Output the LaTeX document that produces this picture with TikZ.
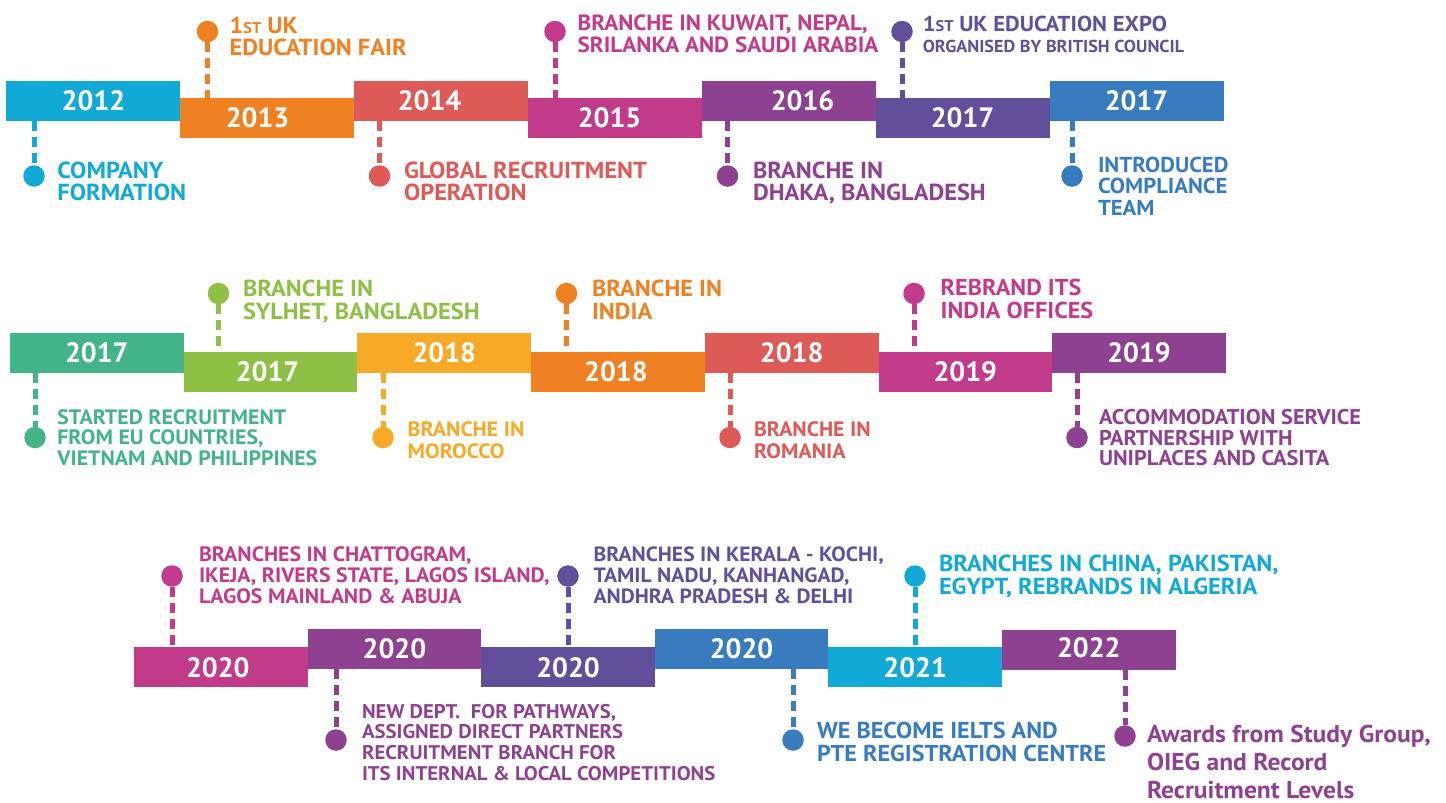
\documentclass[tikz,border=0pt]{standalone}
\usepackage{fontspec}
\setmainfont{PT Sans}
\newfontfamily\yrfont{PT Sans}
\newfontfamily\tlfont[FakeStretch=1.05]{PT Sans}
\definecolor{cCyan}{HTML}{12A9D7}
\definecolor{cOrange}{HTML}{EF8123}
\definecolor{cCoral}{HTML}{DD5A57}
\definecolor{cMagenta}{HTML}{C23B8A}
\definecolor{cPurple}{HTML}{8E4190}
\definecolor{cIndigo}{HTML}{624F9C}
\definecolor{cBlue}{HTML}{387CBF}
\definecolor{cTeal}{HTML}{43B388}
\definecolor{cLime}{HTML}{8DC045}
\definecolor{cYellow}{HTML}{F8A928}
\newcommand\lblfont[2]{\tlfont\bfseries\fontsize{#1}{#2}\selectfont}
\newcommand\smallst{{\fontsize{15.5}{15.5}\selectfont ST}}
\tikzset{
  yearbox/.style={rectangle, fill=#1, minimum height=40pt, inner sep=0pt, outer sep=0pt, anchor=north west},
  yeartext/.style={text=white, font=\yrfont\bfseries\fontsize{28}{28}\selectfont, inner sep=0pt},
  pin/.style={circle, fill=#1, minimum size=21.5pt, inner sep=0pt, outer sep=0pt},
  stem/.style={draw=#1, line width=5pt, dash pattern=on 10pt off 6pt},
  note/.style={anchor=north west, inner sep=0pt, outer sep=0pt, align=left, text=#1},
}
\begin{document}
\begin{tikzpicture}[x=1pt,y=-1pt]
\useasboundingbox (0,0) rectangle (1446,803);
% ---------------- Row 1 ----------------
\node[yearbox=cCyan,    minimum width=174pt] (b1) at (5.5,80.5) {};
\node[yearbox=cOrange,  minimum width=174pt] (b2) at (179.5,98) {};
\node[yearbox=cCoral,   minimum width=174pt] (b3) at (353.5,80.5) {};
\node[yearbox=cMagenta, minimum width=174pt] (b4) at (527.5,98) {};
\node[yearbox=cPurple,  minimum width=174pt] (b5) at (701.5,80.5) {};
\node[yearbox=cIndigo,  minimum width=174pt] (b6) at (875.5,98) {};
\node[yearbox=cBlue,    minimum width=174pt] (b7) at (1049.5,80.5) {};
\node[yeartext] (y1) at ([xshift=1pt]b1.center) {2012};
\node[yeartext] (y2) at ([xshift=-9pt]b2.center) {2013};
\node[yeartext] (y3) at ([xshift=-11pt]b3.center) {2014};
\node[yeartext] (y4) at ([xshift=-5pt]b4.center) {2015};
\node[yeartext] (y5) at ([xshift=14pt]b5.center) {2016};
\node[yeartext] (y6) at (b6.center) {2017};
\node[yeartext] (y7) at (b7.center) {2017};
\node[pin=cCyan]    (d1) at (34,176) {};
\node[pin=cOrange]  (d2) at (207.5,31.5) {};
\node[pin=cCoral]   (d3) at (379.5,176) {};
\node[pin=cMagenta] (d4) at (555,31.5) {};
\node[pin=cPurple]  (d5) at (727.5,176) {};
\node[pin=cIndigo]  (d6) at (902,31.5) {};
\node[pin=cBlue]    (d7) at (1072,176) {};
\draw[stem=cCyan]    (b1.south -| d1) -- (d1.north);
\draw[stem=cOrange]  (d2.south) -- (b2.north -| d2);
\draw[stem=cCoral]   (b3.south -| d3) -- (d3.north);
\draw[stem=cMagenta] (d4.south) -- (b4.north -| d4);
\draw[stem=cPurple]  (b5.south -| d5) -- (d5.north);
\draw[stem=cIndigo]  (d6.south) -- (b6.north -| d6);
\draw[stem=cBlue]    (b7.south -| d7) -- (d7.north);
\node[note=cCyan, font=\lblfont{23.2}{22.5}] (l1) at (57.4,161.5) {COMPANY\\FORMATION};
\node[note=cOrange, font=\lblfont{23.2}{22.5}] (l2) at (229.6,16.5) {1\smallst{} UK\\EDUCATION FAIR};
\node[note=cCoral, font=\lblfont{23.2}{22.5}] (l3) at (404,161.5) {GLOBAL RECRUITMENT\\OPERATION};
\node[note=cMagenta, font=\lblfont{22}{21.7}] (l4) at (577.6,15) {BRANCHE IN KUWAIT, NEPAL,\\SRILANKA AND SAUDI ARABIA};
\node[note=cPurple, font=\lblfont{23.2}{22.5}] (l5) at (753,161.5) {BRANCHE IN\\DHAKA, BANGLADESH};
\node[note=cIndigo, font=\lblfont{21.6}{22.5}] (l6) at (922.8,16.5) {1\smallst{} UK EDUCATION EXPO};
\node[note=cIndigo, font=\lblfont{17.3}{18}] (l6b) at (922.8,40) {ORGANISED BY BRITISH COUNCIL};
\node[note=cBlue, font=\lblfont{21.6}{21.5}] (l7) at (1098,157) {INTRODUCED\\COMPLIANCE\\TEAM};
% ---------------- Row 2 ----------------
\node[yearbox=cTeal,    minimum width=173.7pt] (e1) at (10,333) {};
\node[yearbox=cLime,    minimum width=173.7pt] (e2) at (183.7,352) {};
\node[yearbox=cYellow,  minimum width=173.7pt] (e3) at (357.4,333) {};
\node[yearbox=cOrange,  minimum width=173.7pt] (e4) at (531.1,352) {};
\node[yearbox=cCoral,   minimum width=173.7pt] (e5) at (704.8,333) {};
\node[yearbox=cMagenta, minimum width=173.7pt] (e6) at (878.5,352) {};
\node[yearbox=cPurple,  minimum width=173.7pt] (e7) at (1052.2,333) {};
\node[yeartext] (z1) at (e1.center) {2017};
\node[yeartext] (z2) at ([xshift=-3pt]e2.center) {2017};
\node[yeartext] (z3) at (e3.center) {2018};
\node[yeartext] (z4) at ([xshift=-2pt]e4.center) {2018};
\node[yeartext] (z5) at (e5.center) {2018};
\node[yeartext] (z6) at (e6.center) {2019};
\node[yeartext] (z7) at (e7.center) {2019};
\node[pin=cTeal]    (p1) at (35,437.5) {};
\node[pin=cLime]    (p2) at (218.5,293.5) {};
\node[pin=cYellow]  (p3) at (383,437.5) {};
\node[pin=cOrange]  (p4) at (566.5,293.5) {};
\node[pin=cCoral]   (p5) at (730,437.5) {};
\node[pin=cMagenta] (p6) at (914,293.5) {};
\node[pin=cPurple]  (p7) at (1077,437.5) {};
\draw[stem=cTeal]    (e1.south -| p1) -- (p1.north);
\draw[stem=cLime]    (p2.south) -- (e2.north -| p2);
\draw[stem=cYellow]  (e3.south -| p3) -- (p3.north);
\draw[stem=cOrange]  (p4.south) -- (e4.north -| p4);
\draw[stem=cCoral]   (e5.south -| p5) -- (p5.north);
\draw[stem=cMagenta] (p6.south) -- (e6.north -| p6);
\draw[stem=cPurple]  (e7.south -| p7) -- (p7.north);
\node[note=cTeal, font=\lblfont{20.8}{20.5}] (m1) at (57.4,409.3) {STARTED RECRUITMENT\\FROM EU COUNTRIES,\\VIETNAM AND PHILIPPINES};
\node[note=cLime, font=\lblfont{23.2}{23.3}] (m2) at (243,279.5) {BRANCHE IN\\SYLHET, BANGLADESH};
\node[note=cYellow, font=\lblfont{20.8}{21.7}] (m3) at (407.7,421.7) {BRANCHE IN\\MOROCCO};
\node[note=cOrange, font=\lblfont{23.2}{23}] (m4) at (592,279.5) {BRANCHE IN\\INDIA};
\node[note=cCoral, font=\lblfont{20.8}{21.7}] (m5) at (754,421.7) {BRANCHE IN\\ROMANIA};
\node[note=cMagenta, font=\lblfont{23}{22.3}] (m6) at (940.7,279.5) {REBRAND ITS\\INDIA OFFICES};
\node[note=cPurple, font=\lblfont{21.3}{20.5}] (m7) at (1099,409.3) {ACCOMMODATION SERVICE\\PARTNERSHIP WITH\\UNIPLACES AND CASITA};
% ---------------- Row 3 ----------------
\node[yearbox=cMagenta, minimum width=173.6pt] (f1) at (134,647.3) {};
\node[yearbox=cPurple,  minimum width=173.6pt] (f2) at (307.6,629) {};
\node[yearbox=cIndigo,  minimum width=173.6pt] (f3) at (481.2,647.3) {};
\node[yearbox=cBlue,    minimum width=173.6pt] (f4) at (654.8,629) {};
\node[yearbox=cCyan,    minimum width=173.6pt] (f5) at (828.4,647.3) {};
\node[yearbox=cPurple,  minimum width=173.6pt] (f6) at (1002,629.5) {};
\node[yeartext] (w1) at ([xshift=-3pt]f1.center) {2020};
\node[yeartext] (w2) at (f2.center) {2020};
\node[yeartext] (w3) at (f3.center) {2020};
\node[yeartext] (w4) at (f4.center) {2020};
\node[yeartext] (w5) at (f5.center) {2021};
\node[yeartext] (w6) at ([yshift=1.5pt]f6.center) {2022};
\node[pin=cMagenta] (q1) at (172,576) {};
\node[pin=cPurple]  (q2) at (336,740) {};
\node[pin=cIndigo]  (q3) at (568,576) {};
\node[pin=cBlue]    (q4) at (793,740) {};
\node[pin=cCyan]    (q5) at (915,576) {};
\node[pin=cPurple]  (q6) at (1125,736) {};
\draw[stem=cMagenta] (q1.south) -- (f1.north -| q1);
\draw[stem=cPurple]  (f2.south -| q2) -- (q2.north);
\draw[stem=cIndigo]  (q3.south) -- (f3.north -| q3);
\draw[stem=cBlue]    (f4.south -| q4) -- (q4.north);
\draw[stem=cCyan]    (q5.south) -- (f5.north -| q5);
\draw[stem=cPurple]  (f6.south -| q6) -- (q6.north);
\node[note=cMagenta, font=\lblfont{20.8}{21}] (n1) at (199,546.7) {BRANCHES IN CHATTOGRAM,\\IKEJA, RIVERS STATE, LAGOS ISLAND,\\LAGOS MAINLAND \& ABUJA};
\node[note=cPurple, font=\lblfont{19.8}{20.7}] (n2) at (362,704) {NEW DEPT.\ \ FOR PATHWAYS,\\ASSIGNED DIRECT PARTNERS\\RECRUITMENT BRANCH FOR\\ITS INTERNAL \& LOCAL COMPETITIONS};
\node[note=cIndigo, font=\lblfont{20.6}{21}] (n3) at (593.5,546.7) {BRANCHES IN KERALA - KOCHI,\\TAMIL NADU, KANHANGAD,\\ANDHRA PRADESH \& DELHI};
\node[note=cBlue, font=\lblfont{23}{22.5}] (n4) at (817,722.3) {WE BECOME IELTS AND\\PTE REGISTRATION CENTRE};
\node[note=cCyan, font=\lblfont{23.2}{23}] (n5) at (939,554.5) {BRANCHES IN CHINA, PAKISTAN,\\EGYPT, REBRANDS IN ALGERIA};
\node[note=cPurple, font=\lblfont{24.3}{28}] (n6) at (1147,725) {Awards from Study Group,\\OIEG and Record\\Recruitment Levels};
\end{tikzpicture}
\end{document}
